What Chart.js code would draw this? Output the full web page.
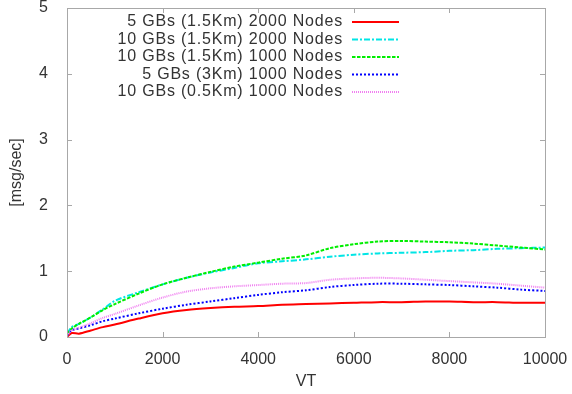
<!DOCTYPE html>
<html>
<head>
<meta charset="utf-8">
<script src="https://cdn.jsdelivr.net/npm/chart.js@4.4.1/dist/chart.umd.min.js"></script>
<style>
  html, body { margin: 0; padding: 0; background: #fff; }
  #wrap { width: 572px; height: 394px; }
</style>
</head>
<body>
<div id="wrap"><canvas id="chart" width="572" height="394"></canvas></div>
<script>
// VT sample points (x axis)
const vt = [0, 100, 250, 500, 750, 1000, 1500, 2000, 2500, 3000, 3500, 4000, 4500,
            5000, 5500, 6000, 6500, 7000, 7500, 8000, 8500, 9000, 9500, 10000];

// Series values [msg/sec]
const red5g2000 = [0, 0.06, 0.05, 0.10, 0.15, 0.19, 0.28, 0.36, 0.41, 0.44, 0.46, 0.47, 0.49,
                   0.50, 0.51, 0.52, 0.53, 0.53, 0.54, 0.54, 0.53, 0.53, 0.52, 0.52];
const cyan10g2000 = [0.05, 0.15, 0.20, 0.30, 0.42, 0.55, 0.68, 0.80, 0.90, 0.98, 1.05, 1.12, 1.15,
                     1.18, 1.22, 1.25, 1.27, 1.28, 1.29, 1.31, 1.32, 1.34, 1.35, 1.36];
const green10g1000 = [0.05, 0.13, 0.20, 0.30, 0.41, 0.50, 0.66, 0.80, 0.90, 0.99, 1.07, 1.13, 1.19,
                      1.24, 1.35, 1.41, 1.45, 1.46, 1.45, 1.44, 1.42, 1.39, 1.36, 1.33];
const blue5g3km = [0.02, 0.10, 0.13, 0.18, 0.24, 0.28, 0.36, 0.43, 0.49, 0.54, 0.59, 0.64, 0.68,
                   0.71, 0.76, 0.79, 0.81, 0.81, 0.80, 0.79, 0.77, 0.75, 0.72, 0.70];
const pink10g05km = [0.02, 0.10, 0.14, 0.21, 0.29, 0.35, 0.48, 0.60, 0.69, 0.74, 0.77, 0.79, 0.81,
                     0.82, 0.87, 0.89, 0.90, 0.89, 0.87, 0.85, 0.83, 0.81, 0.78, 0.75];

const seriesLabels = [
  "5 GBs (1.5Km) 2000 Nodes",
  "10 GBs (1.5Km) 2000 Nodes",
  "10 GBs (1.5Km) 1000 Nodes",
  "5 GBs (3Km) 1000 Nodes",
  "10 GBs (0.5Km) 1000 Nodes"
];
const xTicks = [0, 2000, 4000, 6000, 8000, 10000];
const yTicks = [0, 1, 2, 3, 4, 5];

const FONT = "'Liberation Sans', Arial, Helvetica, sans-serif";
const TEXT = "#333";
const AXIS_GRAY = "#a8a8a8";

const toPoints = (ys) => ys.map((y, i) => ({ x: vt[i], y: y }));

const styles = [
  { color: "#ff0000", dash: [], width: 2 },
  { color: "#00e5e5", dash: [6, 2, 2, 2], width: 2 },
  { color: "#00ee00", dash: [3.5, 1.5], width: 2 },
  { color: "#0000ff", dash: [2, 2], width: 2 },
  { color: "#f080f0", dash: [1, 1], width: 2 }
];
const allSeries = [red5g2000, cyan10g2000, green10g1000, blue5g3km, pink10g05km];

const datasets = allSeries.map((ys, i) => ({
  label: seriesLabels[i],
  data: toPoints(ys),
  borderColor: styles[i].color,
  borderDash: styles[i].dash,
  borderWidth: styles[i].width,
  pointRadius: 0,
  tension: 0.3,
  fill: false,
  order: 5 - i
}));

// gnuplot style frame: grey box with inward ticks on all four sides
const framePlugin = {
  id: "frame",
  afterDraw(chart) {
    const { ctx, chartArea: a, scales } = chart;
    ctx.save();
    ctx.strokeStyle = AXIS_GRAY;
    ctx.lineWidth = 1;
    ctx.strokeRect(a.left + 0.5, a.top + 0.5, a.right - a.left, a.bottom - a.top);
    ctx.beginPath();
    xTicks.forEach(v => {
      const x = Math.round(scales.x.getPixelForValue(v)) + 0.5;
      ctx.moveTo(x, a.bottom); ctx.lineTo(x, a.bottom - 5);
      ctx.moveTo(x, a.top); ctx.lineTo(x, a.top + 5);
    });
    yTicks.forEach(v => {
      const y = Math.round(scales.y.getPixelForValue(v)) + 0.5;
      ctx.moveTo(a.left, y); ctx.lineTo(a.left + 5, y);
      ctx.moveTo(a.right, y); ctx.lineTo(a.right - 5, y);
    });
    ctx.stroke();

    // legend: right aligned text, line sample on the right
    ctx.font = "16px " + FONT;
    ctx.letterSpacing = "0.8px";
    ctx.textAlign = "right";
    ctx.textBaseline = "middle";
    ctx.fillStyle = TEXT;
    chart.data.datasets.forEach((ds, i) => {
      const y = 22 + i * 17.5;
      ctx.fillText(ds.label, 343, y);
      ctx.beginPath();
      ctx.strokeStyle = ds.borderColor;
      ctx.lineWidth = ds.borderWidth;
      ctx.setLineDash(ds.borderDash);
      ctx.moveTo(352, y);
      ctx.lineTo(399, y);
      ctx.stroke();
      ctx.setLineDash([]);
    });
    ctx.restore();
  }
};

const ctx = document.getElementById("chart").getContext("2d");
new Chart(ctx, {
  type: "line",
  data: { datasets: datasets },
  options: {
    responsive: false,
    animation: false,
    layout: { padding: { top: 8, right: 27, left: 0, bottom: 0 } },
    plugins: {
      legend: { display: false },
      tooltip: { enabled: false }
    },
    scales: {
      x: {
        type: "linear",
        min: 0,
        max: 10000,
        afterFit: s => { s.height = 57; s.paddingLeft = 0; s.paddingRight = 0; },
        afterBuildTicks: s => { s.ticks = xTicks.map(v => ({ value: v })); },
        grid: { display: false },
        border: { display: false },
        ticks: { color: TEXT, padding: 5, maxRotation: 0, callback: v => String(v), font: { family: FONT, size: 16 } },
        title: { display: true, text: "VT", color: TEXT, padding: { top: 0, bottom: 3 }, font: { family: FONT, size: 16 } }
      },
      y: {
        min: 0,
        max: 5,
        afterFit: s => { s.width = 67; s.paddingTop = 0; s.paddingBottom = 0; },
        afterBuildTicks: s => { s.ticks = yTicks.map(v => ({ value: v })); },
        grid: { display: false },
        border: { display: false },
        ticks: { color: TEXT, padding: 11, callback: v => String(v), font: { family: FONT, size: 16 } },
        title: { display: true, text: "[msg/sec]", color: TEXT, padding: { top: 7, bottom: 0 }, font: { family: FONT, size: 16 } }
      }
    }
  },
  plugins: [framePlugin]
});
</script>
</body>
</html>
